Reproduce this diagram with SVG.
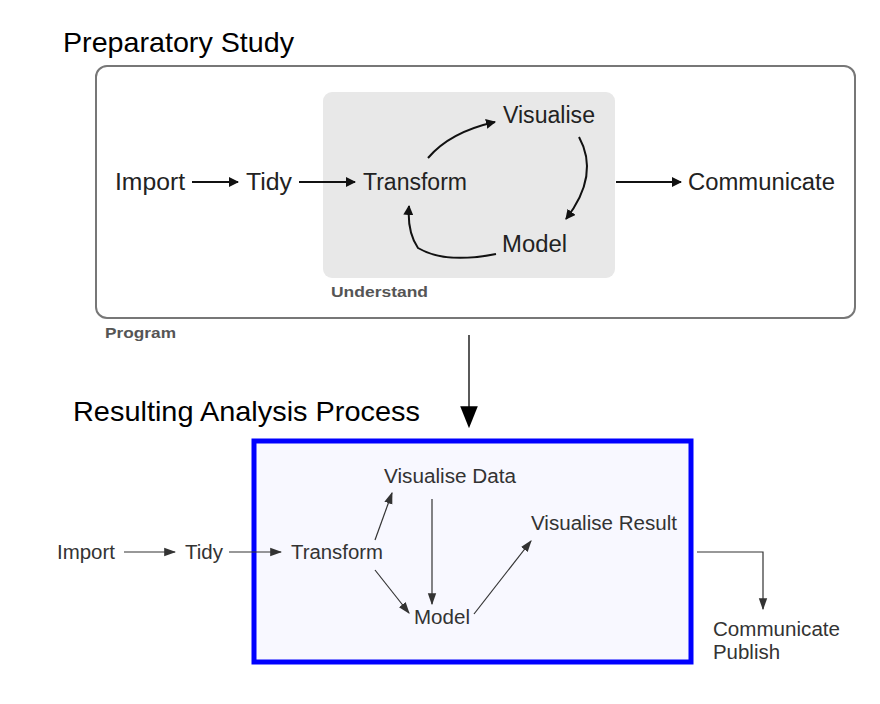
<svg xmlns="http://www.w3.org/2000/svg" width="880" height="704" viewBox="0 0 880 704">
<defs>
<style>
.t{font-family:"Liberation Sans",Arial,sans-serif;}
.top{font-size:23.5px;fill:#222;}
.bot{font-size:19.5px;fill:#333;}
.h{font-size:28.5px;fill:#000;}
.lab{font-size:15.5px;font-weight:bold;fill:#555;}
.c1{fill:none;stroke:#111;stroke-width:2;}
.c2{fill:none;stroke:#333;stroke-width:1.2;}
</style>
<marker id="ah1" viewBox="0 0 10 10" refX="9" refY="5" markerWidth="5" markerHeight="5" orient="auto" markerUnits="strokeWidth"><path d="M0,0 L10,5 L0,10 z" fill="#111"/></marker>
<marker id="ah2" viewBox="0 0 10 10" refX="9" refY="5" markerWidth="10" markerHeight="10" orient="auto" markerUnits="strokeWidth"><path d="M0,1.5 L10,5 L0,8.5 z" fill="#333"/></marker>
<marker id="ah3" viewBox="0 0 10 10" refX="9" refY="5" markerWidth="22" markerHeight="22" orient="auto" markerUnits="userSpaceOnUse"><path d="M0,1 L10,5 L0,9 z" fill="#000"/></marker>
</defs>
<rect width="880" height="704" fill="#fff"/>
<text class="t h" x="63" y="52" textLength="231" lengthAdjust="spacingAndGlyphs">Preparatory Study</text>
<g id="program"><rect x="96" y="66" width="759" height="252" rx="11" fill="#fff" stroke="#777" stroke-width="2"/><text class="t lab" x="105" y="338" textLength="71" lengthAdjust="spacingAndGlyphs">Program</text></g>
<g id="understand"><rect x="323" y="92" width="292" height="186" rx="9" fill="#e8e8e8"/><text class="t lab" x="331" y="297" textLength="97" lengthAdjust="spacingAndGlyphs">Understand</text></g>
<g id="import1"><text class="t top" x="115" y="190" textLength="70" lengthAdjust="spacingAndGlyphs">Import</text></g>
<g id="tidy1"><text class="t top" x="246" y="190" textLength="46" lengthAdjust="spacingAndGlyphs">Tidy</text></g>
<g id="transform1"><text class="t top" x="363" y="190" textLength="104" lengthAdjust="spacingAndGlyphs">Transform</text></g>
<g id="visualise1"><text class="t top" x="503" y="123" textLength="92" lengthAdjust="spacingAndGlyphs">Visualise</text></g>
<g id="model1"><text class="t top" x="502" y="252" textLength="65" lengthAdjust="spacingAndGlyphs">Model</text></g>
<g id="communicate1"><text class="t top" x="688" y="190" textLength="147" lengthAdjust="spacingAndGlyphs">Communicate</text></g>
<text class="t h" x="73" y="421" textLength="347" lengthAdjust="spacingAndGlyphs">Resulting Analysis Process</text>
<g id="process"><rect x="254" y="441" width="437" height="221" fill="#f8f8ff" stroke="#0000ff" stroke-width="5"/></g>
<g id="import2"><text class="t bot" x="57" y="559" textLength="58" lengthAdjust="spacingAndGlyphs">Import</text></g>
<g id="tidy2"><text class="t bot" x="185" y="559" textLength="38" lengthAdjust="spacingAndGlyphs">Tidy</text></g>
<g id="transform2"><text class="t bot" x="291" y="559" textLength="92" lengthAdjust="spacingAndGlyphs">Transform</text></g>
<g id="visdata"><text class="t bot" x="384" y="483" textLength="132" lengthAdjust="spacingAndGlyphs">Visualise Data</text></g>
<g id="visresult"><text class="t bot" x="531" y="530" textLength="146" lengthAdjust="spacingAndGlyphs">Visualise Result</text></g>
<g id="model2"><text class="t bot" x="414" y="624" textLength="56" lengthAdjust="spacingAndGlyphs">Model</text></g>
<g id="communicate2"><text class="t bot" x="713" y="636" textLength="127" lengthAdjust="spacingAndGlyphs">Communicate</text><text class="t bot" x="713" y="659" textLength="67" lengthAdjust="spacingAndGlyphs">Publish</text></g>
<g id="connectors">
<path class="c1" d="M192,182 L238,182" marker-end="url(#ah1)"/>
<path class="c1" d="M299,182 L355,182" marker-end="url(#ah1)"/>
<path class="c1" d="M616,182 L681,182" marker-end="url(#ah1)"/>
<path class="c1" d="M428,158 Q450,132 495,122" marker-end="url(#ah1)"/>
<path class="c1" d="M579,137 Q600,175 566,219" marker-end="url(#ah1)"/>
<path class="c1" d="M496,254 Q445,264 418,248 Q407,232 409,206" marker-end="url(#ah1)"/>
<path fill="none" stroke="#000" stroke-width="1.3" d="M469,335 L469,426" marker-end="url(#ah3)"/>
<path class="c2" d="M124,552 L175,552" marker-end="url(#ah2)"/>
<path class="c2" d="M229,552 L281,552" marker-end="url(#ah2)"/>
<path class="c2" d="M375,540 L392,493" marker-end="url(#ah2)"/>
<path class="c2" d="M432,499 L432,604" marker-end="url(#ah2)"/>
<path class="c2" d="M375,570 L409,613" marker-end="url(#ah2)"/>
<path class="c2" d="M474,614 L531,541" marker-end="url(#ah2)"/>
<path class="c2" d="M697,552 L763,552 L763,609" marker-end="url(#ah2)"/>
</g>
</svg>
